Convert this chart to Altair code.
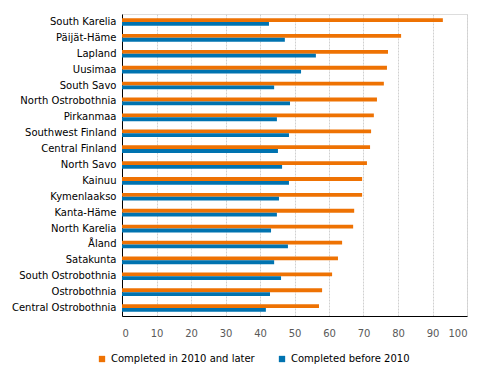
import altair as alt
import pandas as pd

regions = ["South Karelia", "Päijät-Häme", "Lapland", "Uusimaa", "South Savo",
           "North Ostrobothnia", "Pirkanmaa", "Southwest Finland", "Central Finland",
           "North Savo", "Kainuu", "Kymenlaakso", "Kanta-Häme", "North Karelia",
           "Åland", "Satakunta", "South Ostrobothnia", "Ostrobothnia",
           "Central Ostrobothnia"]
later = [93.0, 80.9, 77.1, 76.8, 75.9, 73.9, 73.0, 72.2, 71.9, 71.0, 69.6, 69.6,
         67.3, 67.0, 63.8, 62.6, 60.9, 58.0, 57.1]
before = [42.6, 47.2, 56.2, 51.9, 44.1, 48.7, 44.9, 48.4, 45.2, 46.4, 48.4, 45.5,
          44.9, 43.2, 48.1, 44.1, 46.1, 42.9, 41.7]
series = ["Completed in 2010 and later", "Completed before 2010"]
colors = ["#EE7203", "#0073B0"]

rows = []
for r, a, b in zip(regions, later, before):
    rows.append({"region": r, "series": series[0], "value": a})
    rows.append({"region": r, "series": series[1], "value": b})
df = pd.DataFrame(rows)

font = "DejaVu Sans"

chart = alt.Chart(df).mark_bar().encode(
    y=alt.Y("region:N", sort=regions, title=None,
            scale=alt.Scale(paddingInner=0.52, paddingOuter=0.26),
            axis=alt.Axis(ticks=False, domain=True, domainColor="#000000",
                          labelColor="#000000", labelFont=font, labelFontSize=10,
                          labelPadding=6, grid=False)),
    yOffset=alt.YOffset("series:N", sort=series),
    x=alt.X("value:Q", title=None,
            scale=alt.Scale(domain=[0, 100], nice=False),
            axis=alt.Axis(values=list(range(0, 101, 10)), ticks=False,
                          domainColor="#000000", labelColor="#595959",
                          labelFont=font, labelFontSize=10, labelPadding=12,
                          grid=True, gridColor="#d0d0d0", gridDash=[2, 1])),
    color=alt.Color("series:N", sort=series,
                    scale=alt.Scale(domain=series, range=colors),
                    legend=alt.Legend(title=None, orient="none", direction="horizontal",
                                      legendX=-25, legendY=340,
                                      symbolType="square", symbolSize=40,
                                      symbolStrokeWidth=0, columnPadding=22,
                                      labelFont=font, labelFontSize=10,
                                      labelColor="#000000")),
).properties(
    width=345, height=302,
    autosize=alt.AutoSizeParams(type="none"),
    padding={"left": 114, "top": 6, "right": 10, "bottom": 50},
).configure_view(stroke=None).configure(background="#ffffff")

chart.save("out.html", embed_options={"renderer": "svg", "actions": False})
